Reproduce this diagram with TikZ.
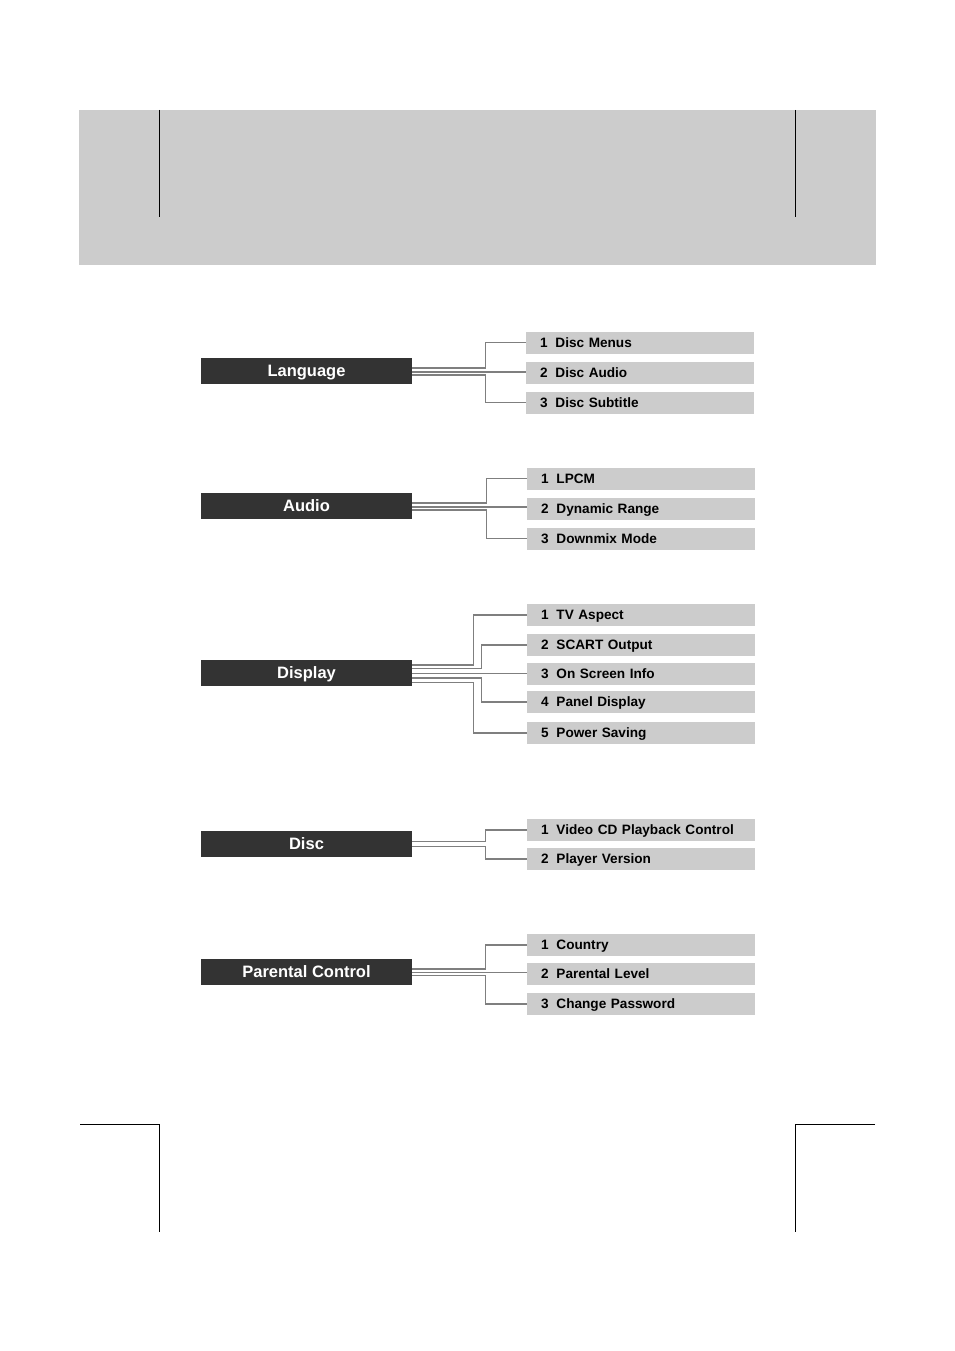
\documentclass[tikz,border=0pt]{standalone}
\usepackage{fontspec}
\setmainfont{Liberation Sans}
\usetikzlibrary{calc}
\definecolor{boxdark}{HTML}{333333}
\definecolor{itemgray}{HTML}{CCCCCC}
\definecolor{conngray}{HTML}{7F7F7F}
\tikzset{
  mainbox/.style={fill=boxdark, text=white, minimum width=211pt, minimum height=26pt, inner sep=0pt,
    text height=11.8pt, text depth=0pt,
    font=\fontsize{16.5}{19}\selectfont\bfseries},
  itembox/.style={fill=itemgray, text=black, minimum width=228pt, minimum height=22pt, inner ysep=0pt,
    text height=9.8pt, text depth=0pt,
    inner xsep=14pt, text width=200pt, align=left, font=\fontsize{13.6}{16}\selectfont\bfseries},
  conn/.style={draw=conngray, line width=1.1pt},
  pageline/.style={draw=black, line width=1pt}
}
\newcommand{\itm}[2]{\makebox[15.5pt][l]{#1}#2}
\begin{document}
\begin{tikzpicture}[x=1pt,y=-1pt]
\useasboundingbox (0,0) rectangle (954,1351);
% header
\fill[itemgray] (79,110) rectangle (876,265);
\coordinate (hl1) at (159,110); \coordinate (hl2) at (159,217);
\coordinate (hr1) at (795,110); \coordinate (hr2) at (795,217);
\draw[pageline] (hl1) -- (hl2);
\draw[pageline] (hr1) -- (hr2);
% footer crop marks
\coordinate (fl0) at (80,1124); \coordinate (fl1) at (159,1124); \coordinate (fl2) at (159,1232);
\coordinate (fr0) at (875,1124); \coordinate (fr1) at (795,1124); \coordinate (fr2) at (795,1232);
\draw[pageline] (fl0) -- (fl1) -- (fl2);
\draw[pageline] (fr0) -- (fr1) -- (fr2);

% ---------- Language ----------
\node[mainbox] (L) at (306.5,371) {Language};
\node[itembox] (L1) at (640,342.5) {\itm{1}{Disc Menus}};
\node[itembox] (L2) at (640,372.5) {\itm{2}{Disc Audio}};
\node[itembox] (L3) at (640,402.5) {\itm{3}{Disc Subtitle}};
\draw[conn] ($(L.east)+(0,-3)$) -| ($(L1.west)+(-40,0)$) -- (L1.west);
\draw[conn] ($(L.east)+(0,1)$) coordinate (lm) -- (lm -| L2.west);
\draw[conn] ($(L.east)+(0,4)$) -| ($(L3.west)+(-40,0)$) -- (L3.west);

% ---------- Audio ----------
\node[mainbox] (A) at (306.5,506) {Audio};
\node[itembox] (A1) at (641,478.5) {\itm{1}{LPCM}};
\node[itembox] (A2) at (641,508.5) {\itm{2}{Dynamic Range}};
\node[itembox] (A3) at (641,538.5) {\itm{3}{Downmix Mode}};
\draw[conn] ($(A.east)+(0,-3)$) -| ($(A1.west)+(-40,0)$) -- (A1.west);
\draw[conn] ($(A.east)+(0,1)$) coordinate (am) -- (am -| A2.west);
\draw[conn] ($(A.east)+(0,4)$) -| ($(A3.west)+(-40,0)$) -- (A3.west);

% ---------- Display ----------
\node[mainbox] (D) at (306.5,673) {Display};
\node[itembox] (D1) at (641,615) {\itm{1}{TV Aspect}};
\node[itembox] (D2) at (641,645) {\itm{2}{SCART Output}};
\node[itembox] (D3) at (641,674) {\itm{3}{On Screen Info}};
\node[itembox] (D4) at (641,702) {\itm{4}{Panel Display}};
\node[itembox] (D5) at (641,733) {\itm{5}{Power Saving}};
\draw[conn] ($(D.east)+(0,-8)$) -| ($(D1.west)+(-53,0)$) -- (D1.west);
\draw[conn] ($(D.east)+(0,-4.5)$) -| ($(D2.west)+(-45,0)$) -- (D2.west);
\draw[conn] ($(D.east)+(0,0.5)$) coordinate (dm) -- (dm -| D3.west);
\draw[conn] ($(D.east)+(0,5)$) -| ($(D4.west)+(-45,0)$) -- (D4.west);
\draw[conn] ($(D.east)+(0,9.5)$) -| ($(D5.west)+(-53,0)$) -- (D5.west);

% ---------- Disc ----------
\node[mainbox] (C) at (306.5,844) {Disc};
\node[itembox] (C1) at (641,830) {\itm{1}{Video CD Playback Control}};
\node[itembox] (C2) at (641,859) {\itm{2}{Player Version}};
\draw[conn] ($(C.east)+(0,-2.5)$) -| ($(C1.west)+(-41,0)$) -- (C1.west);
\draw[conn] ($(C.east)+(0,2.5)$) -| ($(C2.west)+(-41,0)$) -- (C2.west);

% ---------- Parental Control ----------
\node[mainbox] (P) at (306.5,972) {Parental Control};
\node[itembox] (P1) at (641,945) {\itm{1}{Country}};
\node[itembox] (P2) at (641,974) {\itm{2}{Parental Level}};
\node[itembox] (P3) at (641,1004) {\itm{3}{Change Password}};
\draw[conn] ($(P.east)+(0,-3)$) -| ($(P1.west)+(-41,0)$) -- (P1.west);
\draw[conn] ($(P.east)+(0,0.5)$) coordinate (pm) -- (pm -| P2.west);
\draw[conn] ($(P.east)+(0,3.5)$) -| ($(P3.west)+(-41,0)$) -- (P3.west);
\end{tikzpicture}
\end{document}
